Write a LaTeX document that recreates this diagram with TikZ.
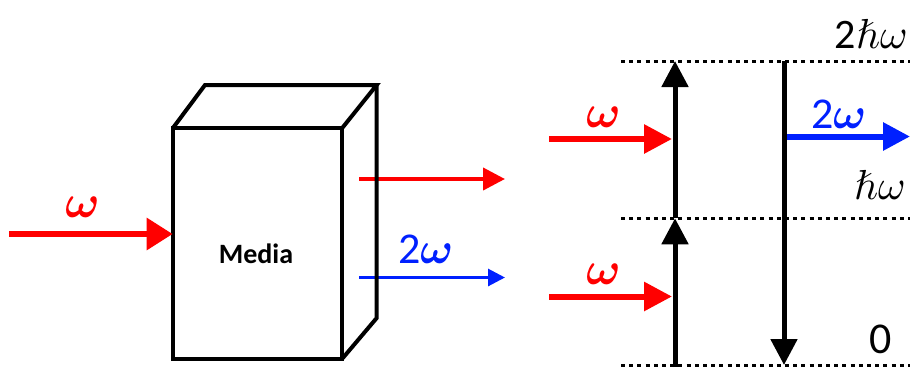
\documentclass[tikz,border=0pt]{standalone}
\usepackage{fontspec}
\usepackage{unicode-math}
\setmainfont{Carlito}
\setmathfont{Latin Modern Math}
\usetikzlibrary{arrows.meta}
\definecolor{myred}{RGB}{255,0,0}
\definecolor{myblue}{RGB}{0,32,255}
\tikzset{
  edge/.style={line width=4pt, line join=miter},
  lvl/.style={line width=3pt, dash pattern=on 4pt off 4.2pt},
  wlabel/.style={inner sep=0pt, font=\fontsize{46}{46}\selectfont},
  tr/.style={-{Triangle[length=#1,width=#1]}},
}
\begin{document}
\begin{tikzpicture}[x=1pt,y=-1pt]
\useasboundingbox (0,0) rectangle (910,367);
% arrows out of the box (drawn under box edges)
\coordinate (ro1) at (359,179);
\coordinate (ro2) at (505,179);
\coordinate (bo1) at (359,277.5);
\coordinate (bo2) at (505,277.5);
\draw[myred, line width=4pt, tr=22pt] (ro1) -- (ro2);
\draw[myblue, line width=3pt, tr=17pt] (bo1) -- (bo2);
% box
\coordinate (fa) at (172.7,128.3);
\coordinate (fb) at (342,128.3);
\coordinate (fc) at (342,359);
\coordinate (fd) at (172.7,359);
\coordinate (ta) at (205,85);
\coordinate (tb) at (376.7,85);
\coordinate (tc) at (376.7,318);
\draw[edge] (fa) -- (fb) -- (fc) -- (fd) -- cycle;
\draw[edge] (fa) -- (ta) -- (tb) -- (fb);
\draw[edge] (tb) -- (tc) -- (fc);
\node[inner sep=0pt, font=\fontsize{28}{28}\selectfont\bfseries] (media) at (256,254) {Media};
% incoming arrow
\coordinate (in1) at (9,234);
\draw[myred, line width=6pt, -{Triangle[length=26pt,width=31pt]}] (in1) -- (fa |- in1);
\node[wlabel, text=myred] (w0) at (82,207) {$\symbfit{\omega}$};
\node[inner sep=0pt, text=myblue, font=\fontsize{44}{44}\selectfont] (w2a) at (425,249) {2$\symbfit{\omega}$};
% energy levels
\coordinate (l2a) at (621,61); \coordinate (l2b) at (910,61);
\coordinate (l1a) at (621,218.3); \coordinate (l1b) at (910,218.3);
\coordinate (l0a) at (621,365.5); \coordinate (l0b) at (910,365.5);
\draw[lvl] (l2a) -- (l2b);
\draw[lvl] (l1a) -- (l1b);
\draw[lvl] (l0a) -- (l0b);
% transitions
\coordinate (u0) at (675,367);
\coordinate (u1) at (675,218.3);
\coordinate (u2) at (675,61);
\draw[line width=5pt, tr=26pt] (u0) -- (u1);
\draw[line width=5pt, tr=26pt] (u1) -- (u2);
\coordinate (d2) at (784,61);
\coordinate (d0) at (784,365);
\draw[line width=5pt, tr=26pt] (d2) -- (d0);
% red inputs
\coordinate (r1a) at (549,139); \coordinate (r1b) at (672,139);
\coordinate (r2a) at (549,296.5); \coordinate (r2b) at (672,296.5);
\draw[myred, line width=6pt, tr=28pt] (r1a) -- (r1b);
\draw[myred, line width=6pt, tr=28pt] (r2a) -- (r2b);
\node[wlabel, text=myred] (w1) at (603,117) {$\symbfit{\omega}$};
\node[wlabel, text=myred] (w3) at (603,274) {$\symbfit{\omega}$};
% blue output
\coordinate (b1a) at (787,136.5); \coordinate (b1b) at (910,136.5);
\draw[myblue, line width=6pt, tr=27pt] (b1a) -- (b1b);
\node[inner sep=0pt, text=myblue, font=\fontsize{44}{44}\selectfont] (w2b) at (838,114) {2$\symbfit{\omega}$};
% level labels
\node[inner sep=0pt, font=\fontsize{42}{42}\selectfont, anchor=east] (e2) at (907,34) {2$\hbar\omega$};
\node[inner sep=0pt, font=\fontsize{42}{42}\selectfont, anchor=east] (e1) at (905,185) {$\hbar\omega$};
\node[inner sep=0pt, font=\fontsize{44}{44}\selectfont] (e0) at (881,339) {0};
\end{tikzpicture}
\end{document}
